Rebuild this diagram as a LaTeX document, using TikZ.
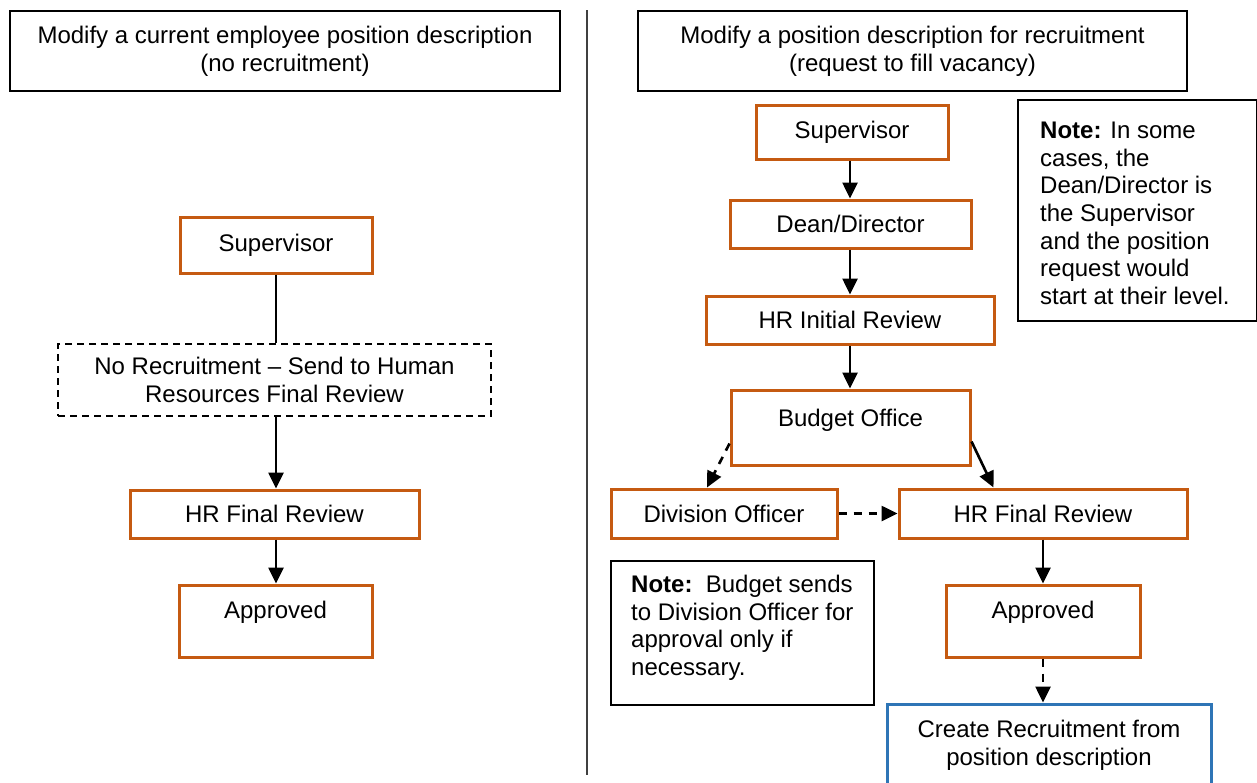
\documentclass[tikz,border=0pt]{standalone}
\usepackage{fontspec}
\setmainfont{Liberation Sans}
\usetikzlibrary{arrows.meta,calc}
\definecolor{orangebox}{RGB}{197,90,17}
\definecolor{bluebox}{RGB}{46,117,182}
\begin{document}
\begin{tikzpicture}[x=1pt,y=-1pt,
  every node/.style={font=\fontsize{24}{27.6}\selectfont, inner sep=0pt, align=center},
  obox/.style={draw=orangebox, line width=3pt, rectangle},
  bbox/.style={draw=black, line width=1.8pt, rectangle},
  dbox/.style={draw=black, line width=1.6pt, rectangle, dash pattern=on 7pt off 5pt},
  cbox/.style={draw=bluebox, line width=3pt, rectangle},
  conn/.style={line width=2.6pt, draw=black},
  arr/.style={conn, -{Triangle[length=16pt,width=15pt]}},
  darr/.style={arr, dash pattern=on 8pt off 7pt},
  notetext/.style={align=left, anchor=north west}
]
\useasboundingbox (0,0) rectangle (1257,782);
\fill[white] (0,0) rectangle (1257,782);

% divider
\draw[line width=1.5pt, black!75] (587,10) -- (587,775);

% left column
\node[bbox, minimum width=550, minimum height=80] (ltop) at (285,51)
  {Modify a current employee position description\\(no recruitment)};
\node[obox, minimum width=192, minimum height=56] (lsup) at (276,245) {Supervisor};
\node[dbox, minimum width=433, minimum height=72] (lnorec) at (274.5,380)
  {No Recruitment -- Send to Human\\Resources Final Review};
\node[obox, minimum width=289, minimum height=48] (lhr) at (274.5,514) {HR Final Review};
\node[obox, minimum width=193, minimum height=72] (lapp) at (275.5,621) {Approved\\[-6pt]\mbox{}};

\draw[conn] (lsup.south) -- (lsup.south |- lnorec.north);
\draw[arr] (lsup.south |- lnorec.south) -- (lsup.south |- lhr.north);
\draw[arr] (lsup.south |- lhr.south) -- (lsup.south |- lapp.north);

% right column
\node[bbox, minimum width=549, minimum height=80] (rtop) at (912.5,51)
  {Modify a position description for recruitment\\(request to fill vacancy)};
\node[obox, minimum width=192, minimum height=54] (rsup) at (852,132) {Supervisor};
\node[obox, minimum width=241, minimum height=48] (rdean) at (850.5,224) {Dean/Director};
\node[obox, minimum width=288, minimum height=48] (rhri) at (850,320) {HR Initial Review};
\node[obox, minimum width=239, minimum height=75] (rbud) at (850.5,427.5) {Budget Office\\[-8pt]\mbox{}};
\node[obox, minimum width=226, minimum height=49] (rdiv) at (724,513.5) {Division Officer};
\node[obox, minimum width=288, minimum height=49] (rhrf) at (1043,513.5) {HR Final Review};
\node[obox, minimum width=194, minimum height=72] (rapp) at (1043,621) {Approved\\[-6pt]\mbox{}};
\node[cbox, minimum width=324, minimum height=82] (rcre) at (1049,745)
  {Create Recruitment from\\position description};

% notes
\node[bbox, minimum width=239, minimum height=221] (note1) at (1137.5,210.5) {};
\node[notetext] (note1t) at (1040,122)
  {\textbf{Note:} In some\\cases, the\\Dean/Director is\\the Supervisor\\and the position\\request would\\start at their level.};
\node[bbox, minimum width=263, minimum height=144] (note2) at (742.5,633) {};
\node[notetext] (note2t) at (631,575)
  {\textbf{Note:}\ \ Budget sends\\to Division Officer for\\approval only if\\necessary.};

\draw[arr] (850,0 |- rsup.south) -- (850,0 |- rdean.north);
\draw[arr] (850,0 |- rdean.south) -- (850,0 |- rhri.north);
\draw[arr] (850,0 |- rhri.south) -- (850,0 |- rbud.north);
\draw[darr] ($(rbud.south west)+(0,-23)$) -- ($(rdiv.north)+(-17,0)$);
\draw[arr] ($(rbud.south east)+(0,-25)$) -- ($(rhrf.north west)+(96,0)$);
\draw[darr] (rdiv.east) -- (rhrf.west);
\draw[arr] (rhrf.south) -- (rapp.north);
\draw[darr] (rapp.south) -- (rapp.south |- rcre.north);
\end{tikzpicture}
\end{document}
